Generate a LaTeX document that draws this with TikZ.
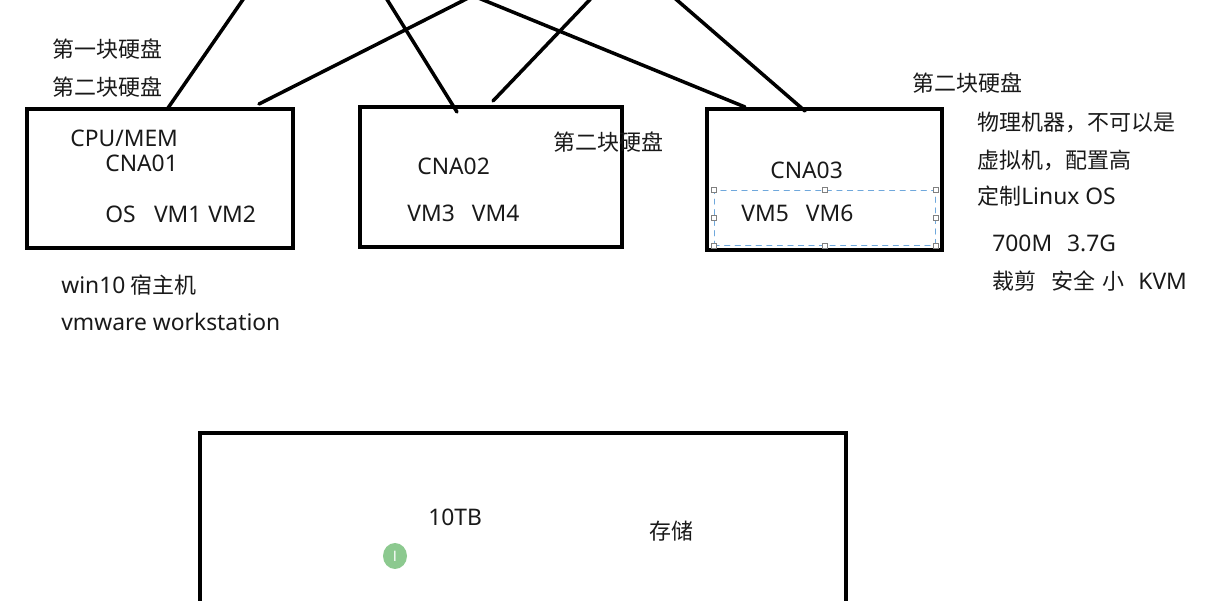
\documentclass[tikz,border=0pt]{standalone}
\usepackage{fontspec}
\setmainfont{Noto Sans CJK SC}
\newfontfamily\latinfont{Noto Sans}
\usetikzlibrary{fit}
\definecolor{selBlue}{HTML}{6FA8DC}
\definecolor{cursorGreen}{HTML}{8CC98F}
\newcommand{\lat}[1]{{\latinfont\fontsize{13}{15}\selectfont #1}}

\begin{document}
\begin{tikzpicture}[
  x=0.02cm, y=-0.02cm,
  line cap=round,
  every node/.style={font=\fontsize{12.5}{15}\selectfont, text=black!90},
  hostbox/.style={draw, line width=1.8pt, inner sep=0pt, line cap=rect},
  wire/.style={line width=2pt},
  note/.style={anchor=west, inner sep=0pt}
]
  \useasboundingbox (0,0) rectangle (1205,601);
  \clip (0,0) rectangle (1205,601);

  % Host boxes
  \node[hostbox, fit={(27,109) (293,248)}] (cna1) {};
  \node[hostbox, fit={(360,107) (622,247)}] (cna2) {};
  \node[hostbox, fit={(707,109) (942,250)}] (cna3) {};
  \node[hostbox, fit={(200,433) (846,640)}] (store) {};

  % Wire ends (top ends lie above the picture)
  \coordinate (t1) at (251,-12);
  \coordinate (t2) at (488,-12);
  \coordinate (t3) at (378,-15);
  \coordinate (t4) at (601,-12);
  \coordinate (t5) at (454,-12);
  \coordinate (t6) at (663,-12);
  \coordinate (b1) at (168,108);
  \coordinate (b2) at (259,104);
  \coordinate (b3) at (457,112);
  \coordinate (b4) at (493,101);
  \coordinate (b5) at (745,107);
  \coordinate (b6) at (805,111);

  % Wires
  \draw[wire] (t1) -- (b1);
  \draw[wire] (t2) -- (b2);
  \draw[wire] (t3) -- (b3);
  \draw[wire] (t4) -- (b4);
  \draw[wire] (t5) -- (b5);
  \draw[wire] (t6) -- (b6);

  % Selection frame round VM5 VM6
  \node[draw=selBlue, dashed, line width=0.5pt, inner sep=0pt, fit={(714,190) (935,245)}] (sel) {};
  \foreach \a in {north west,north,north east,east,south east,south,south west,west}
    \draw[gray, fill=white, line width=0.4pt] ([shift={(-2.5,-2.5)}]sel.\a) rectangle ([shift={(2.5,2.5)}]sel.\a);

  % Texts in the boxes
  \node[note] (cpu) at (70,138) {\lat{CPU/MEM}};
  \node[note] (n1) at (105,163) {\lat{CNA01}};
  \node[note] (vm12) at (105,214) {\lat{OS\hspace{0.8em}VM1\hspace{0.3em}VM2}};
  \node[note] (n2) at (417,166) {\lat{CNA02}};
  \node[note] (vm34) at (407,213) {\lat{VM3\hspace{0.75em}VM4}};
  \node[note] (n3) at (770,170) {\lat{CNA03}};
  \node[note] (vm56) at (741,213) {\lat{VM5\hspace{0.75em}VM6}};
  \node[note] (tb) at (428,517) {\lat{10TB}};
  \node[note] (cc) at (649,531) {存储};

  % Disk labels
  \node[note] (d1) at (52,49) {第一块硬盘};
  \node[note] (d2) at (52,87) {第二块硬盘};
  \node[note] (d3) at (553,142) {第二块硬盘};
  \node[note] (d4) at (912,83) {第二块硬盘};

  % Notes
  \node[note] (w1) at (61,285) {\lat{win10} 宿主机};
  \node[note] (w2) at (61,322) {\lat{vmware workstation}};
  \node[note] (r1) at (977,122) {物理机器，不可以是};
  \node[note] (r2) at (977,160) {虚拟机，配置高};
  \node[note] (r3) at (977,196) {定制\lat{Linux OS}};
  \node[note] (r4) at (992,243) {\lat{700M\hspace{0.65em}3.7G}};
  \node[note] (r5) at (992,281) {裁剪\hspace{0.7em}安全\hspace{0.3em}小\hspace{0.65em}\lat{KVM}};

  % Cursor mark
  \fill[cursorGreen] (395,556) ellipse (12 and 13);
  \node[font=\fontsize{8}{8}\selectfont, text=white, inner sep=0pt] (cur) at (395,556) {I};
\end{tikzpicture}
\end{document}
